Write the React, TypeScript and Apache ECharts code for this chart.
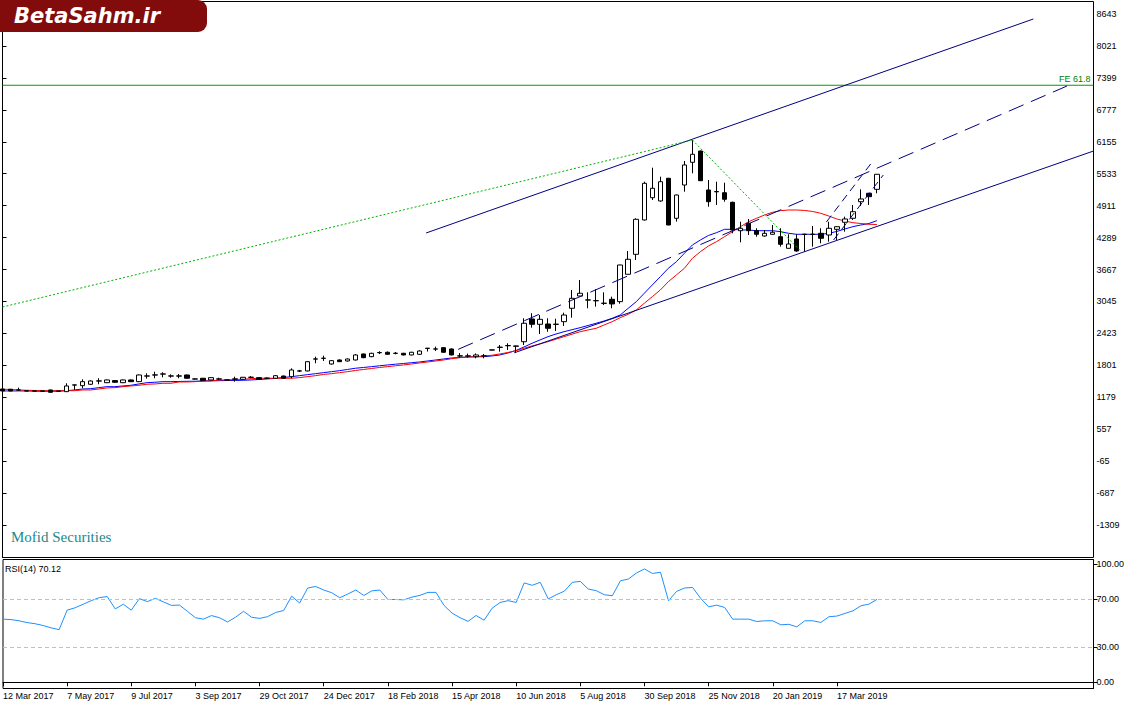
import React, { useEffect, useRef } from "react";
import * as echarts from "echarts";

// ---- x axis ----
const tickLabels = [
  "12 Mar 2017", "7 May 2017", "9 Jul 2017", "3 Sep 2017", "29 Oct 2017", "24 Dec 2017",
  "18 Feb 2018", "15 Apr 2018", "10 Jun 2018", "5 Aug 2018", "30 Sep 2018", "25 Nov 2018",
  "20 Jan 2019", "17 Mar 2019",
];
const labelEvery = 8;
const totalSlots = 137;

// ---- weekly candles ----
const opens = [
  1340, 1335, 1319, 1305, 1300, 1302, 1321, 1300, 1288, 1416,
  1405, 1432, 1494, 1463, 1503, 1463, 1516, 1483, 1591, 1611,
  1634, 1595, 1591, 1613, 1537, 1549, 1516, 1533, 1514, 1533,
  1529, 1566, 1561, 1548, 1549, 1593, 1580, 1689, 1691, 1922,
  1936, 1827, 1905, 1886, 1905, 2022, 1970, 2046, 2055, 2033,
  2035, 2003, 2016, 2130, 2117, 2145, 2119, 1985, 1981, 1970,
  1982, 2098, 2150, 2182, 2172, 2261, 2704, 2600, 2606, 2598,
  2651, 2912, 3151, 3072, 3058, 3007, 3087, 3041, 3574, 3963,
  4632, 5066, 5002, 5444, 4665, 5313, 5755, 5975, 5216, 5180,
  5163, 4976, 4423, 4567, 4423, 4320, 4353, 4306, 4080, 4262,
  4350, 4350, 4372, 4339, 4450, 4587, 4665, 4988, 5152, 5229,
];
const closes = [
  1302, 1302, 1323, 1300, 1303, 1298, 1276, 1296, 1399, 1420,
  1483, 1496, 1498, 1516, 1471, 1516, 1483, 1613, 1595, 1615,
  1630, 1591, 1595, 1549, 1533, 1503, 1561, 1537, 1518, 1537,
  1568, 1570, 1529, 1552, 1599, 1549, 1710, 1693, 1872, 1926,
  1940, 1892, 1872, 1924, 2003, 1950, 2035, 2050, 2016, 2037,
  2003, 2055, 2080, 2135, 2121, 2055, 2003, 1982, 1985, 2003,
  1986, 2102, 2155, 2186, 2178, 2620, 2600, 2697, 2522, 2603,
  2781, 3106, 3204, 3076, 3062, 3012, 2996, 3755, 3866, 4645,
  5346, 5249, 5377, 4534, 5118, 5703, 5911, 5397, 4988, 5186,
  5035, 4437, 4470, 4423, 4353, 4372, 4392, 4158, 4164, 4028,
  4355, 4355, 4275, 4470, 4501, 4651, 4793, 5041, 5085, 5522,
];
const lows = [
  1295, 1296, 1308, 1295, 1294, 1290, 1270, 1285, 1282, 1321,
  1354, 1420, 1432, 1455, 1463, 1455, 1475, 1475, 1541, 1549,
  1568, 1560, 1549, 1540, 1525, 1495, 1510, 1515, 1505, 1483,
  1520, 1550, 1520, 1540, 1540, 1540, 1549, 1671, 1685, 1841,
  1886, 1815, 1865, 1875, 1895, 1940, 1960, 2020, 2005, 2015,
  1995, 1995, 2005, 2070, 2080, 2045, 1995, 1950, 1950, 1938,
  1938, 2090, 2067, 2100, 2040, 2197, 2534, 2411, 2456, 2470,
  2567, 2729, 3145, 2912, 2944, 2976, 2912, 3000, 3570, 3853,
  4620, 5021, 4988, 4530, 4600, 5183, 5541, 5390, 4891, 4924,
  4988, 4372, 4197, 4339, 4306, 4306, 4345, 4112, 4075, 4014,
  4014, 4112, 4178, 4209, 4242, 4404, 4632, 4904, 4924, 5152,
];
const highs = [
  1345, 1340, 1366, 1312, 1308, 1306, 1325, 1305, 1451, 1422,
  1529, 1510, 1549, 1525, 1512, 1525, 1525, 1620, 1645, 1677,
  1665, 1625, 1632, 1620, 1545, 1555, 1570, 1560, 1525, 1580,
  1575, 1590, 1570, 1565, 1610, 1600, 1743, 1712, 1880, 1970,
  1989, 1905, 1915, 1935, 2020, 2030, 2045, 2075, 2070, 2060,
  2045, 2065, 2095, 2137, 2165, 2155, 2130, 2040, 2030, 2032,
  2022, 2105, 2197, 2230, 2182, 2717, 2815, 2781, 2717, 2709,
  2826, 3268, 3463, 3223, 3282, 3223, 3138, 3760, 4028, 4665,
  5377, 5650, 5475, 5450, 5125, 5781, 6190, 5985, 5411, 5377,
  5358, 4990, 4598, 4651, 4470, 4437, 4534, 4470, 4353, 4353,
  4360, 4515, 4470, 4598, 4505, 4696, 4924, 5229, 5160, 5527,
];

// ---- moving averages ----
const maFast = [
  1302, 1302, 1302, 1302, 1296, 1296, 1296, 1296, 1307, 1321,
  1340, 1346, 1366, 1385, 1385, 1399, 1412, 1438, 1463, 1471,
  1483, 1483, 1486, 1490, 1490, 1496, 1500, 1502, 1506, 1506,
  1510, 1516, 1525, 1535, 1549, 1564, 1580, 1599, 1619, 1638,
  1658, 1677, 1697, 1720, 1744, 1759, 1775, 1792, 1808, 1823,
  1837, 1852, 1866, 1886, 1905, 1925, 1944, 1954, 1964, 1967,
  1969, 1983, 2002, 2041, 2090, 2158, 2230, 2295, 2359, 2411,
  2456, 2495, 2534, 2577, 2620, 2665, 2717, 2781, 2912, 3040,
  3204, 3366, 3527, 3691, 3819, 3983, 4145, 4242, 4330, 4384,
  4450, 4450, 4437, 4437, 4423, 4423, 4423, 4404, 4372, 4353,
  4353, 4353, 4353, 4372, 4408, 4456, 4501, 4534, 4563, 4618,
];
const maSlow = [
  1335, 1331, 1321, 1315, 1311, 1307, 1307, 1307, 1307, 1307,
  1321, 1321, 1340, 1360, 1366, 1385, 1399, 1412, 1432, 1438,
  1451, 1451, 1477, 1477, 1483, 1496, 1496, 1516, 1516, 1525,
  1529, 1541, 1549, 1549, 1549, 1549, 1549, 1561, 1580, 1599,
  1623, 1638, 1658, 1677, 1701, 1720, 1739, 1759, 1775, 1792,
  1808, 1827, 1847, 1866, 1886, 1905, 1930, 1950, 1964, 1969,
  1983, 1997, 2022, 2051, 2086, 2133, 2178, 2217, 2262, 2310,
  2359, 2408, 2456, 2490, 2522, 2587, 2651, 2729, 2795, 2879,
  3009, 3138, 3268, 3430, 3561, 3691, 3886, 4014, 4125, 4209,
  4306, 4404, 4501, 4598, 4665, 4729, 4782, 4813, 4826, 4826,
  4817, 4797, 4762, 4709, 4651, 4612, 4579, 4563, 4548, 4544,
];

// ---- RSI(14) ----
const rsi = [
  53.4, 53, 52, 50.5, 49.5, 48, 46, 44.5, 61, 63,
  66, 69, 71.5, 72.5, 62, 66, 61, 70.7, 68.2, 71,
  68, 65, 65.3, 60, 54.6, 53.4, 56.4, 54.6, 51, 55,
  60, 55, 54, 55.5, 59, 60.7, 72.8, 67, 79.7, 81,
  78, 75.7, 71.5, 74.6, 78, 73.4, 77.3, 78, 70, 70,
  69.7, 72, 73.5, 76, 76, 65, 58.5, 54.6, 51.5, 56.5,
  52.5, 62.6, 67.5, 69, 67.5, 84, 82, 84.5, 70.5, 74,
  77, 84.5, 85.3, 78.8, 77.4, 74, 73.2, 85.8, 87.3, 92.4,
  95.8, 92, 93, 68.9, 76.8, 79.7, 80.2, 71, 63.8, 65.2,
  63.3, 53.4, 53.4, 53.4, 51.4, 52, 52, 48.6, 49, 46.9,
  52, 52, 50.6, 55.4, 56, 58.2, 60.4, 64.7, 66.1, 70.12,
];
const rsiTicks = [0, 30, 70, 100];
const rsiLevels = [30, 70];
const rsiMin = -5.24;
const rsiMax = 103.8;

// ---- price axis ----
const priceTicks = [
  -1309, -687, -65, 557, 1179, 1801, 2423, 3045, 3667, 4289, 4911, 5533, 6155, 6777, 7399, 8021, 8643,
];
const priceMin = -1942;
const priceMax = 8887;

// ---- drawn objects: [bar index, price] ----
const upperChannel = [[52.8, 4378], [128.5, 8546]];
const midChannel = [[56.8, 2112], [132.7, 7241]];
const lowerChannel = [[63.8, 2045], [136, 5975]];
const fibLegAB = [[0, 2937], [86, 6190]];
const fibLegBC = [[86, 6190], [99.4, 4040]];
const feLevel = 7255;
const feLabel = "FE 61.8";
const miniChannelA = [[102.7, 4592], [108.6, 5800]];
const miniChannelB = [[103.6, 4242], [109.8, 5508]];

const FONT = "Liberation Sans";

export default function App() {
  const ref = useRef<HTMLDivElement>(null);

  useEffect(() => {
    if (!ref.current) return;
    const chart = echarts.init(ref.current, undefined, { renderer: "svg" });
    const cats = Array.from({ length: totalSlots }, (_, i) => String(i));
    const candleData = opens.map((o, i) => [o, closes[i], lows[i], highs[i]]);
    const showTick = (index: number) =>
      index % labelEvery === 0 && index / labelEvery < tickLabels.length;

    const navy = "#000080";
    const green = "#00a000";
    const overlay = (data: number[][], color: string, type: any, extra: any = {}) => ({
      type: "line",
      xAxisIndex: 2,
      yAxisIndex: 0,
      data,
      showSymbol: false,
      symbol: "none",
      silent: true,
      clip: true,
      lineStyle: { color, width: 1, type },
      itemStyle: { color },
      z: 4,
      ...extra,
    });

    const option: any = {
      animation: false,
      textStyle: { fontFamily: FONT },
      grid: [
        { left: 2.5, right: 42.5, top: 1.5, height: 556, show: true, borderColor: "#000", borderWidth: 1 },
        { left: 2.5, right: 42.5, top: 559.5, height: 129, show: true, borderColor: "#000", borderWidth: 1 },
      ],
      xAxis: [
        { type: "category", gridIndex: 0, data: cats, boundaryGap: false, show: false },
        {
          type: "category",
          gridIndex: 1,
          data: cats,
          boundaryGap: false,
          axisLine: { show: true, lineStyle: { color: "#000", width: 1 } },
          axisTick: { show: true, interval: showTick, length: 4, lineStyle: { color: "#000" } },
          axisLabel: {
            interval: showTick,
            formatter: (_v: string, index: number) =>
              index % labelEvery === 0 ? tickLabels[index / labelEvery] ?? "" : "",
            align: "left",
            margin: 3,
            fontSize: 9,
            fontFamily: FONT,
            color: "#000",
          },
          splitLine: { show: false },
        },
        { type: "value", gridIndex: 0, min: 0, max: totalSlots - 1, show: false },
      ],
      yAxis: [
        {
          type: "value",
          gridIndex: 0,
          position: "right",
          min: priceMin,
          max: priceMax,
          axisLine: { show: true, lineStyle: { color: "#000" } },
          axisTick: { show: true, customValues: priceTicks, length: 4, lineStyle: { color: "#000" } },
          axisLabel: {
            customValues: priceTicks,
            formatter: (v: number) => String(v),
            margin: 3,
            fontSize: 9,
            fontFamily: FONT,
            color: "#000",
          },
          splitLine: { show: false },
        },
        {
          type: "value",
          gridIndex: 1,
          position: "right",
          min: rsiMin,
          max: rsiMax,
          axisLine: { show: true, lineStyle: { color: "#000" } },
          axisTick: { show: true, customValues: rsiTicks, length: 4, lineStyle: { color: "#000" } },
          axisLabel: {
            customValues: rsiTicks,
            formatter: (v: number) => v.toFixed(2),
            margin: 3,
            fontSize: 9,
            fontFamily: FONT,
            color: "#000",
          },
          splitLine: { show: false },
        },
      ],
      series: [
        {
          type: "line",
          name: "MA fast",
          xAxisIndex: 0,
          yAxisIndex: 0,
          data: maFast,
          showSymbol: false,
          symbol: "none",
          lineStyle: { color: "#0000ff", width: 1 },
          z: 2,
        },
        {
          type: "line",
          name: "MA slow",
          xAxisIndex: 0,
          yAxisIndex: 0,
          data: maSlow,
          showSymbol: false,
          symbol: "none",
          lineStyle: { color: "#ff0000", width: 1 },
          z: 2,
        },
        {
          type: "candlestick",
          xAxisIndex: 0,
          yAxisIndex: 0,
          data: candleData,
          barWidth: 5,
          itemStyle: {
            color: "#ffffff",
            color0: "#000000",
            borderColor: "#000000",
            borderColor0: "#000000",
            borderWidth: 1,
          },
          z: 3,
        },
        overlay([[0, feLevel], [totalSlots - 1, feLevel]], green, "solid", {
          name: "FE 61.8",
          lineStyle: { color: green, width: 1.15, type: "solid" },
          endLabel: {
            show: true,
            formatter: feLabel,
            color: "#008000",
            fontSize: 9,
            fontFamily: FONT,
            align: "right",
            verticalAlign: "bottom",
            offset: [-11, -2],
          },
        }),
        overlay(upperChannel, navy, "solid"),
        overlay(midChannel, navy, [16, 8]),
        overlay(lowerChannel, navy, "solid"),
        overlay(fibLegAB, "#00b400", [2, 2]),
        overlay(fibLegBC, "#00b400", [2, 2]),
        overlay(miniChannelA, navy, [8, 5]),
        overlay(miniChannelB, navy, [8, 5]),
        {
          type: "line",
          xAxisIndex: 1,
          yAxisIndex: 1,
          data: rsi,
          showSymbol: false,
          symbol: "none",
          lineStyle: { color: "#1e90ff", width: 1 },
          markLine: {
            silent: true,
            symbol: "none",
            label: { show: false },
            lineStyle: { color: "#c0c0c0", width: 1, type: [4, 3] },
            data: rsiLevels.map((v) => ({ yAxis: v })),
          },
        },
      ],
      graphic: [
        {
          type: "rect",
          x: 0,
          y: 0,
          shape: { x: 0, y: 0, width: 207, height: 32, r: [0, 9, 9, 0] },
          style: { fill: "#820b0b" },
          z: 100,
        },
        {
          type: "text",
          x: 14,
          y: 16,
          style: {
            text: "BetaSahm.ir",
            fill: "#ffffff",
            fontSize: 21,
            fontWeight: "bold",
            fontStyle: "italic",
            fontFamily: "DejaVu Sans",
            verticalAlign: "middle",
          },
          z: 101,
        },
        {
          type: "text",
          x: 11,
          y: 537,
          style: {
            text: "Mofid Securities",
            fill: "#23888c",
            fontSize: 15,
            fontFamily: "Liberation Serif",
            verticalAlign: "middle",
          },
          z: 100,
        },
        {
          type: "text",
          x: 5,
          y: 569,
          style: {
            text: "RSI(14) 70.12",
            fill: "#000000",
            fontSize: 9,
            fontFamily: FONT,
            verticalAlign: "middle",
          },
          z: 100,
        },
      ],
    };

    chart.setOption(option);
    return () => chart.dispose();
  }, []);

  return (
    <div
      ref={ref}
      style={{ position: "fixed", left: 0, top: 0, width: 1136, height: 709, background: "#fff" }}
    />
  );
}
